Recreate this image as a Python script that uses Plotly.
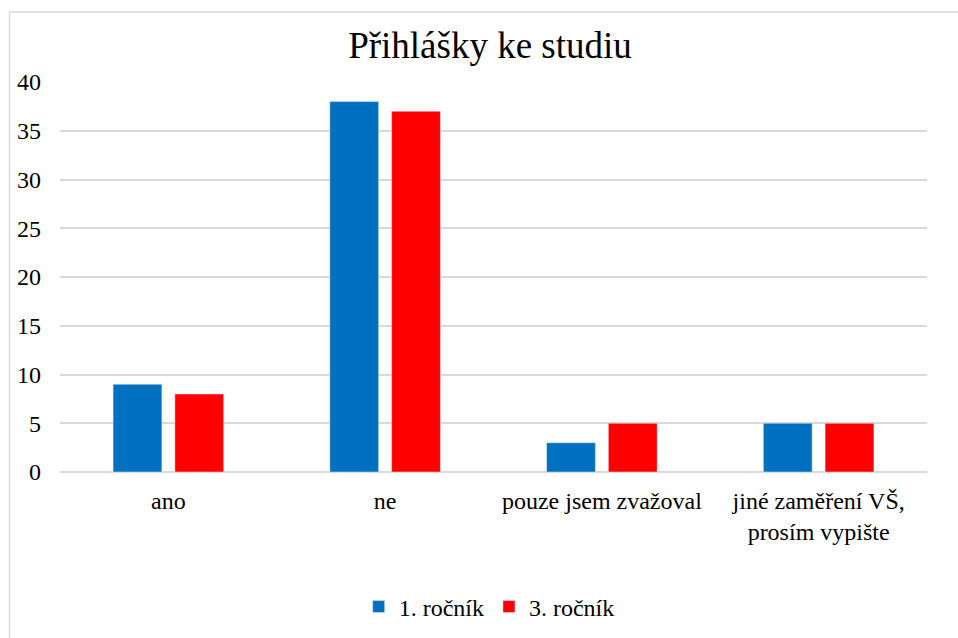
import plotly.graph_objects as go

categories = ["ano", "ne", "pouze jsem zvažoval", "jiné zaměření VŠ,<br>prosím vypište"]
rocnik1 = [9, 38, 3, 5]
rocnik3 = [8, 37, 5, 5]

font = "Liberation Serif"

fig = go.Figure()
fig.add_trace(go.Bar(x=categories, y=rocnik1, name="1. ročník", marker_color="#0070C0"))
fig.add_trace(go.Bar(x=categories, y=rocnik3, name="3. ročník", marker_color="#FF0000"))

# plot area in pixels: x 60..927, y 82..472
L, R, T, B = 60, 31, 82, 166
pw, ph = 958 - L - R, 638 - T - B

fig.update_layout(
    width=958, height=638,
    margin=dict(l=L, r=R, t=T, b=B, autoexpand=False),
    paper_bgcolor="white", plot_bgcolor="white",
    font=dict(family=font, size=24, color="#000000"),
    title=dict(text="Přihlášky ke studiu", x=490 / 958, xanchor="center",
               y=1 - 45 / 638, yanchor="middle", font=dict(family=font, size=37)),
    barmode="group", bargap=0.43, bargroupgap=0.21,
    legend=dict(orientation="h", x=0.495, xanchor="center", y=(472 - 607) / ph,
                yanchor="middle", font=dict(family=font, size=24),
                traceorder="normal"),
    showlegend=True,
)
fig.update_yaxes(range=[0, 40], dtick=5, showgrid=True, gridcolor="#d9d9d9", gridwidth=1.5,
                 zeroline=True, zerolinecolor="#d9d9d9", zerolinewidth=1.5,
                 showline=False, ticks="", ticklabelstandoff=18, automargin=False,
                 tickfont=dict(family=font, size=24))
fig.update_xaxes(showgrid=False, showline=False, ticks="", tickangle=0, automargin=False,
                 ticklabelstandoff=12, tickfont=dict(family=font, size=24))

# outer chart border (partly cut off on the right and bottom)
fig.add_shape(type="rect", xref="paper", yref="paper",
              x0=(9.5 - L) / pw, x1=(970 - L) / pw,
              y0=(472 - 650) / ph, y1=(472 - 12) / ph,
              line=dict(color="#d9d9d9", width=1.5), fillcolor="rgba(0,0,0,0)", layer="below")

fig.write_html("out.html", config={"displayModeBar": False},
               post_script="document.body.style.margin='0';")
